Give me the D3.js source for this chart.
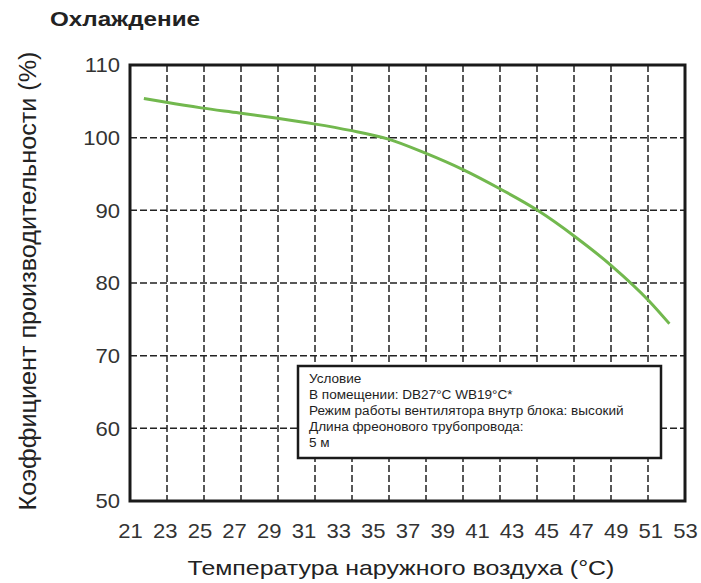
<!DOCTYPE html>
<html>
<head>
<meta charset="utf-8">
<script src="https://cdn.jsdelivr.net/npm/d3@7"></script>
<style>
  body { margin: 0; background: #fff; }
  svg { font-family: "Liberation Sans", Arial, sans-serif; }
</style>
</head>
<body>
<svg id="chart" width="701" height="583"></svg>
<script>
const title = "Охлаждение";
const xTitle = "Температура наружного воздуха (°C)";
const yTitle = "Коэффициент производительности (%)";
const xTicks = [21, 23, 25, 27, 29, 31, 33, 35, 37, 39, 41, 43, 45, 47, 49, 51, 53];
const yTicks = [50, 60, 70, 80, 90, 100, 110];
const gridCols = 15; // vertical grid is split into 15 equal cells in the original
const temps = [21.8, 23.0, 25.1, 27.3, 29.4, 31.6, 33.7, 35.9, 38.0, 40.2, 42.3, 44.5, 46.7, 48.8, 50.9, 52.1];
const capacity = [105.4, 104.9, 104.1, 103.4, 102.7, 101.9, 101.0, 99.8, 97.9, 95.6, 93.0, 90.0, 86.3, 82.3, 77.6, 74.4];
const noteLines = [
  "Условие",
  "В помещении: DB27°C WB19°C*",
  "Режим работы вентилятора внутр блока: высокий",
  "Длина фреонового трубопровода:",
  "5 м"
];

const margins = { top: 65, bottom: 82, left: 130, right: 16 };
const width = 701, height = 583;
const graphW = width - margins.left - margins.right;
const graphH = height - margins.top - margins.bottom;

const svg = d3.select("#chart");

// the source picture is a bit wider than tall, so text is stretched sideways
function stretch(sel, k) {
  sel.each(function () {
    const w = this.getComputedTextLength();
    d3.select(this).attr("textLength", w * k).attr("lengthAdjust", "spacingAndGlyphs");
  });
}

const scaleX = d3.scaleLinear().domain([21, 53]).range([margins.left, margins.left + graphW]);
const scaleY = d3.scaleLinear().domain([50, 110]).range([margins.top + graphH, margins.top]);
const gridX = d3.scaleLinear().domain([0, gridCols]).range([margins.left, margins.left + graphW]);

// title
svg.append("text")
  .attr("x", 50).attr("y", 26)
  .attr("font-size", 20).attr("font-weight", "bold").attr("fill", "#222")
  .attr("textLength", 150).attr("lengthAdjust", "spacingAndGlyphs")
  .text(title);

// grid
const grid = svg.append("g")
  .attr("stroke", "#222").attr("stroke-width", 1.5).attr("stroke-dasharray", "7,3");
grid.selectAll("line.h")
  .data(yTicks.slice(1, -1))
  .enter().append("line")
  .attr("x1", margins.left).attr("x2", margins.left + graphW)
  .attr("y1", d => scaleY(d)).attr("y2", d => scaleY(d));
grid.selectAll("line.v")
  .data(d3.range(1, gridCols))
  .enter().append("line")
  .attr("x1", d => gridX(d)).attr("x2", d => gridX(d))
  .attr("y1", margins.top).attr("y2", margins.top + graphH);

// curve
const line = d3.line()
  .x((d, i) => scaleX(temps[i]))
  .y(d => scaleY(d))
  .curve(d3.curveMonotoneX);
svg.append("path")
  .datum(capacity)
  .attr("d", line)
  .attr("fill", "none")
  .attr("stroke", "#72b84e")
  .attr("stroke-width", 3);

// note box
const box = svg.append("g");
box.append("rect")
  .attr("x", 298).attr("y", 366).attr("width", 363).attr("height", 92)
  .attr("fill", "#fff").attr("stroke", "#1a1a1a").attr("stroke-width", 2.5);
box.selectAll("text")
  .data(noteLines)
  .enter().append("text")
  .attr("x", 309)
  .attr("y", (d, i) => 383 + i * 16)
  .attr("font-size", 12).attr("fill", "#1e1e1e")
  .text(d => d)
  .call(stretch, 1.13);

// frame
svg.append("rect")
  .attr("x", margins.left).attr("y", margins.top)
  .attr("width", graphW).attr("height", graphH)
  .attr("fill", "none").attr("stroke", "#1a1a1a").attr("stroke-width", 3);

// axes
const yAxis = d3.axisLeft(scaleY).tickValues(yTicks).tickSize(0).tickPadding(10);
const xAxis = d3.axisBottom(scaleX).tickValues(xTicks).tickSize(0).tickPadding(0);

const y = svg.append("g")
  .attr("transform", `translate(${margins.left},0)`)
  .call(yAxis);
y.select(".domain").remove();
y.selectAll("text").attr("font-size", 21).attr("fill", "#333")
  .attr("font-family", "Liberation Sans, Arial, sans-serif")
  .call(stretch, 1.05);

const x = svg.append("g")
  .attr("transform", `translate(0,${margins.top + graphH})`)
  .call(xAxis);
x.select(".domain").remove();
x.selectAll("text").attr("font-size", 21).attr("fill", "#333")
  .attr("font-family", "Liberation Sans, Arial, sans-serif")
  .attr("dy", null).attr("y", 37)
  .call(stretch, 1.05);

// axis titles
svg.append("text")
  .attr("x", 401).attr("y", 575)
  .attr("text-anchor", "middle")
  .attr("font-size", 21).attr("fill", "#222")
  .text(xTitle)
  .call(stretch, 1.185);

svg.append("text")
  .attr("transform", "translate(36,281) rotate(-90)")
  .attr("text-anchor", "middle")
  .attr("font-size", 23).attr("fill", "#222")
  .attr("textLength", 459).attr("lengthAdjust", "spacingAndGlyphs")
  .text(yTitle);
</script>
</body>
</html>
